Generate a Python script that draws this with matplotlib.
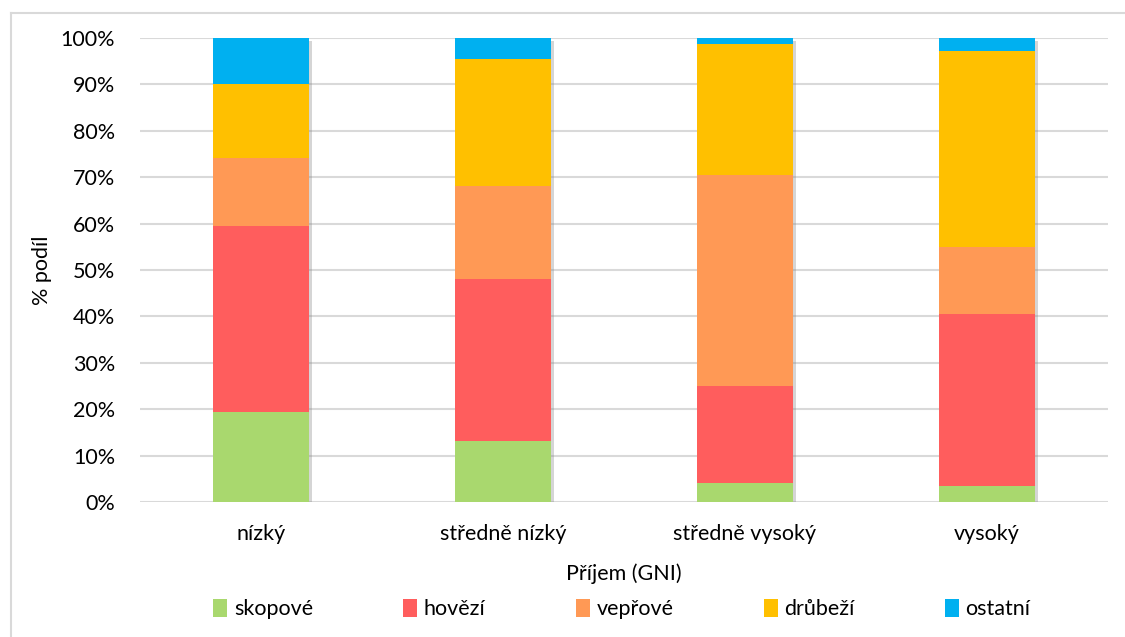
import matplotlib
matplotlib.use("Agg")
import matplotlib.pyplot as plt
import matplotlib.patheffects as pe
from matplotlib.lines import Line2D
from matplotlib.patches import Patch
import numpy as np

categories = ["nízký", "středně nízký", "středně vysoký", "vysoký"]
series_names = ["skopové", "hovězí", "vepřové", "drůbeží", "ostatní"]
skopove = [19.3, 13.1, 4.0, 3.4]
hovezi = [40.1, 35.0, 21.1, 37.2]
veprove = [14.8, 20.1, 45.3, 14.4]
drubezi = [15.9, 27.2, 28.2, 42.3]
ostatni = [9.9, 4.6, 1.4, 2.7]
colors = ["#A9D86E", "#FF5D5D", "#FF9955", "#FFC000", "#00B0F0"]
yticks = [0, 10, 20, 30, 40, 50, 60, 70, 80, 90, 100]
ytick_labels = ["0%", "10%", "20%", "30%", "40%", "50%", "60%", "70%", "80%", "90%", "100%"]

plt.rcParams['font.family'] = ['Lato', 'DejaVu Sans']
FS = 15.5

W, H = 1125, 637
fig = plt.figure(figsize=(W / 100, H / 100), dpi=100)
ax = fig.add_axes([140 / W, 1 - 502 / H, (1108 - 140) / W, (502 - 38) / H])

data = [skopove, hovezi, veprove, drubezi, ostatni]
x = np.arange(len(categories))
width = 0.4

totals = np.sum(np.array(data), axis=0)
ax.bar(x, totals, width=width, color="white", zorder=2,
       path_effects=[pe.SimplePatchShadow(offset=(2, -2), shadow_rgbFace="#888888", alpha=0.35), pe.Normal()])
bottom = np.zeros(len(categories))
for name, vals, col in zip(series_names, data, colors):
    ax.bar(x, vals, width=width, bottom=bottom, color=col, label=name, zorder=3)
    bottom += np.array(vals)

ax.set_xlim(-0.5, len(categories) - 0.5)
ax.set_ylim(0, 100)
ax.set_yticks(yticks)
ax.set_yticklabels(ytick_labels)
ax.set_xticks(x)
ax.set_xticklabels(categories)
ax.yaxis.grid(True, color="#D9D9D9", linewidth=1.5, zorder=0)
ax.set_axisbelow(True)
for s in ax.spines.values():
    s.set_visible(False)
ax.tick_params(axis="both", length=0, labelsize=FS, colors="black")
ax.tick_params(axis="y", pad=18)
ax.tick_params(axis="x", pad=16)
ax.set_ylabel("% podíl", fontsize=FS, labelpad=6)
ax.set_xlabel("Příjem (GNI)", fontsize=FS, labelpad=14)

handles = [Patch(facecolor=c, edgecolor="none") for c in colors]
fig.legend(handles, series_names, loc="center", bbox_to_anchor=(622 / W, 1 - 609 / H),
           ncol=5, frameon=False, fontsize=FS, handlelength=0.65, handleheight=0.9,
           handletextpad=0.3, columnspacing=4.2)

fig.add_artist(Line2D([11 / W, 11 / W], [0, 1 - 13 / H], color="#D9D9D9", linewidth=1.5, transform=fig.transFigure))
fig.add_artist(Line2D([11 / W, 1], [1 - 13 / H, 1 - 13 / H], color="#D9D9D9", linewidth=1.5, transform=fig.transFigure))

fig.savefig("out.png", dpi=100, facecolor="white")
